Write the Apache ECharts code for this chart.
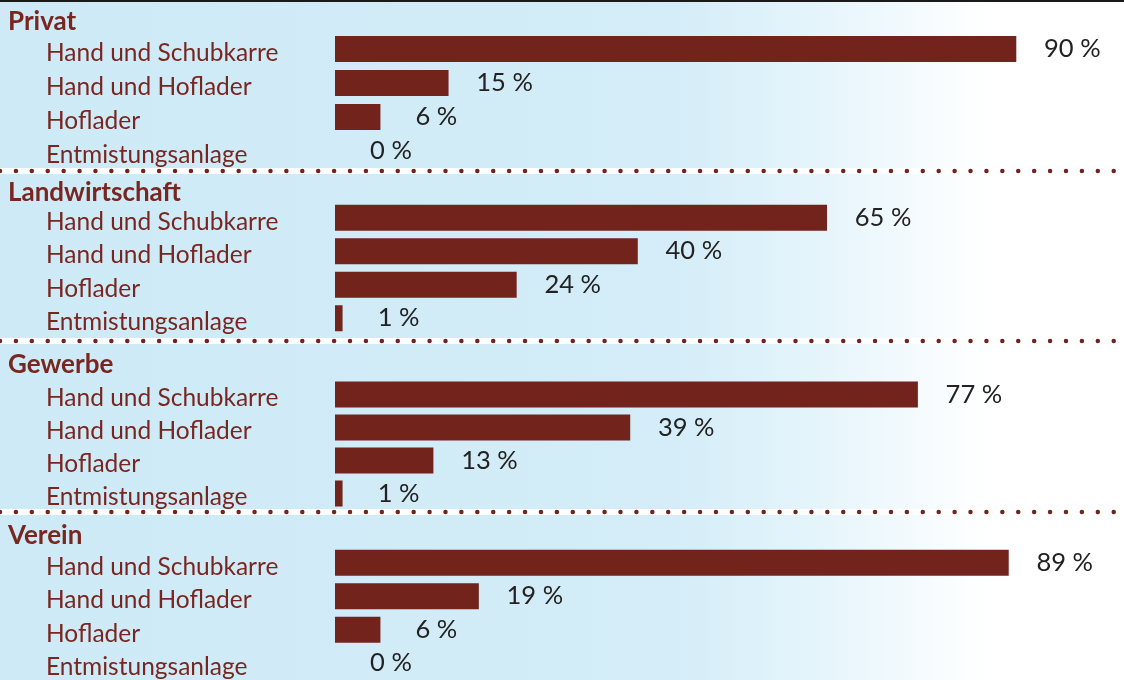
<!DOCTYPE html>
<html>
<head>
<meta charset="utf-8">
<script src="https://cdn.jsdelivr.net/npm/echarts@6/dist/echarts.min.js"></script>
<style>
html,body{margin:0;padding:0;background:#fff;}
#chart{width:1124px;height:680px;}
</style>
</head>
<body>
<div id="chart"></div>
<script>
const groups = ['Privat', 'Landwirtschaft', 'Gewerbe', 'Verein'];
const methods = ['Hand und Schubkarre', 'Hand und Hoflader', 'Hoflader', 'Entmistungsanlage'];
const privat = [90, 15, 6, 0];
const landwirtschaft = [65, 40, 24, 1];
const gewerbe = [77, 39, 13, 1];
const verein = [89, 19, 6, 0];
const groupValues = [privat, landwirtschaft, gewerbe, verein];

const FONT = 'Lato';
const RED = '#72231c';
const TEXTRED = '#7a2620';

const gridTops = [32, 201, 378, 546];
const gridHeights = [136, 134, 132, 135];
const headerCenters = [22, 193, 365, 536];
const sepYs = [171, 341, 512];

const grids = [], xAxes = [], yAxes = [], series = [], titles = [];
groups.forEach((g, i) => {
  grids.push({ left: 335, width: 757, top: gridTops[i], height: gridHeights[i] });
  xAxes.push({ gridIndex: i, type: 'value', min: 0, max: 100, show: false });
  yAxes.push({
    gridIndex: i, type: 'category', data: methods, inverse: true,
    axisLine: { show: false }, axisTick: { show: false }, splitLine: { show: false },
    axisLabel: { align: 'left', verticalAlign: 'top', lineHeight: 8, margin: 289, color: TEXTRED, fontFamily: FONT, fontSize: 24.5 }
  });
  series.push({
    type: 'bar', xAxisIndex: i, yAxisIndex: i, data: groupValues[i],
    barWidth: 26, itemStyle: { color: RED },
    label: {
      show: true, position: 'right', distance: 56, align: 'center',
      formatter: p => p.value + ' %',
      color: '#222', fontFamily: FONT, fontSize: 25.5
    },
    silent: true
  });
  titles.push({
    text: g, left: 8, top: headerCenters[i] - 16, padding: 0,
    textStyle: { color: TEXTRED, fontFamily: FONT, fontSize: 26, fontWeight: 'bold', lineHeight: 32 }
  });
});

const graphics = [];
sepYs.forEach(y => {
  graphics.push({ type: 'rect', shape: { x: 0, y: y - 3, width: 1124, height: 6 }, style: { fill: '#ffffff' }, z: 1 });
  graphics.push({ type: 'line', shape: { x1: 0, y1: y, x2: 1124, y2: y },
    style: { stroke: RED, lineWidth: 4.5, lineCap: 'round', lineDash: [0.01, 15.9] }, z: 2 });
});
graphics.push({ type: 'rect', shape: { x: 0, y: 0, width: 1124, height: 2 }, style: { fill: '#1a1a1a' }, z: 3 });

const chart = echarts.init(document.getElementById('chart'));
chart.setOption({
  animation: false,
  backgroundColor: {
    type: 'linear', x: 0, y: 0, x2: 1, y2: 0,
    colorStops: [
      { offset: 0, color: '#cdeaf6' },
      { offset: 0.6, color: '#d4edf8' },
      { offset: 0.72, color: '#e4f4fb' },
      { offset: 0.88, color: '#ffffff' },
      { offset: 1, color: '#ffffff' }
    ]
  },
  title: titles,
  grid: grids,
  xAxis: xAxes,
  yAxis: yAxes,
  series: series,
  graphic: graphics
});
</script>
</body>
</html>
